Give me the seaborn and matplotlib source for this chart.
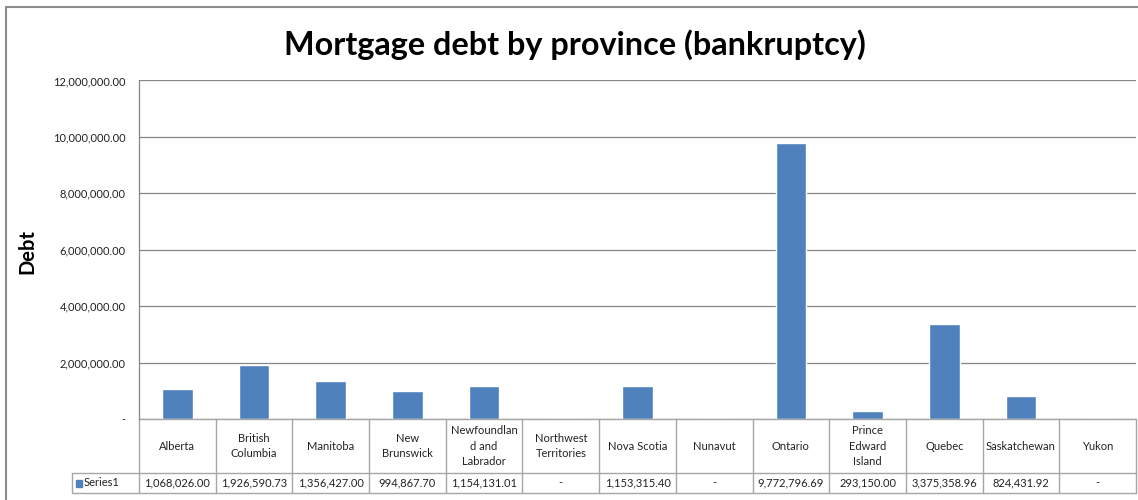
import numpy as np
import pandas as pd
import seaborn as sns
import matplotlib.pyplot as plt
from matplotlib.lines import Line2D
from matplotlib.patches import Rectangle
from matplotlib.ticker import FuncFormatter

provinces = ['Alberta', 'British Columbia', 'Manitoba', 'New Brunswick', 'Newfoundland and Labrador',
             'Northwest Territories', 'Nova Scotia', 'Nunavut', 'Ontario', 'Prince Edward Island',
             'Quebec', 'Saskatchewan', 'Yukon']
# how excel wrapped the names in the table cells
province_labels = ['Alberta', 'British\nColumbia', 'Manitoba', 'New\nBrunswick', 'Newfoundlan\nd and\nLabrador',
                   'Northwest\nTerritories', 'Nova Scotia', 'Nunavut', 'Ontario', 'Prince\nEdward\nIsland',
                   'Quebec', 'Saskatchewan', 'Yukon']
debt = [1068026.00, 1926590.73, 1356427.00, 994867.70, 1154131.01, 0.0, 1153315.40,
        0.0, 9772796.69, 293150.00, 3375358.96, 824431.92, 0.0]
series_name = 'Series1'
y_ticks = [0, 2000000, 4000000, 6000000, 8000000, 10000000, 12000000]

bar_color = '#4F81BD'
grid_color = '#868686'
table_color = '#A6A6A6'
font = 'Lato'

def money(v):
    # excel accounting style: zero shows as a dash
    return '-' if v == 0 else f'{v:,.2f}'

df = pd.DataFrame({'province': provinces, 'debt': debt})

sns.set_style('white')
plt.rcParams['font.family'] = [font, 'DejaVu Sans']

W, H = 1138, 500
fig = plt.figure(figsize=(W / 100, H / 100), dpi=100)
ax = fig.add_axes([139 / W, 1 - 419 / H, (1136 - 139) / W, (419 - 80.5) / H])

sns.barplot(data=df, x='province', y='debt', color=bar_color, saturation=1, width=0.4, ax=ax)

ax.set_xlim(-0.5, len(provinces) - 0.5)
ax.set_ylim(0, 12000000)
ax.set_yticks(y_ticks)
ax.yaxis.set_major_formatter(FuncFormatter(lambda v, p: money(v)))
ax.tick_params(axis='y', length=0, pad=9.5, labelsize=8, labelcolor='#222222')
ax.set_xticks([])
ax.set_xlabel('')
ax.set_ylabel('')
for t in y_ticks:
    ax.axhline(t, color=grid_color, lw=0.9, zorder=0)

for s in ['top', 'right', 'bottom']:
    ax.spines[s].set_visible(False)
ax.spines['left'].set_color(grid_color)
ax.spines['left'].set_linewidth(0.9)

# data table under the plot (axes fraction for y, data coords for x)
row1 = -54 / 338.5
row2 = -74 / 338.5
tr = ax.get_xaxis_transform()
n = len(provinces)
lw = 1.0
ax.add_line(Line2D([-0.5, n - 0.5], [0, 0], transform=tr, color=table_color, lw=lw, clip_on=False))
leg_left = -0.5 - 67 / 76.7
ax.add_line(Line2D([leg_left, n - 0.5], [row1, row1], transform=tr, color=table_color, lw=lw, clip_on=False))
ax.add_line(Line2D([leg_left, n - 0.5], [row2, row2], transform=tr, color=table_color, lw=lw, clip_on=False))
ax.add_line(Line2D([leg_left, leg_left], [row1, row2], transform=tr, color=table_color, lw=lw, clip_on=False))
for i in range(n + 1):
    ax.add_line(Line2D([i - 0.5, i - 0.5], [0, row2], transform=tr, color=table_color, lw=lw, clip_on=False))

for i, (lab, v) in enumerate(zip(province_labels, debt)):
    ax.text(i, row1 / 2, lab, transform=tr, ha='center', va='center', fontsize=8,
            linespacing=1.45, color='#222222')
    ax.text(i, (row1 + row2) / 2, money(v), transform=tr, ha='center', va='center',
            fontsize=8, color='#222222')

# legend key in the series row
ax.add_patch(Rectangle((leg_left + 4 / 76.7, (row1 + row2) / 2 - 3.5 / 338.5), 6 / 76.7, 7 / 338.5,
                       transform=tr, color=bar_color, clip_on=False))
ax.text(leg_left + 12 / 76.7, (row1 + row2) / 2, series_name, transform=tr, ha='left', va='center',
        fontsize=8, color='#222222')

# title and axis title
fig.text(575 / W, 1 - 45 / H, 'Mortgage debt by province (bankruptcy)', ha='center', va='center',
         fontsize=23.3, fontweight='bold', color='black')
fig.text(27.5 / W, 1 - 251 / H, 'Debt', rotation=90, ha='center', va='center', fontsize=14.5,
         fontweight='bold', color='black')

# chart area border (top and left edges visible)
fig.add_artist(Line2D([6 / W, 1], [1 - 7 / H, 1 - 7 / H], transform=fig.transFigure, color='#8C8C8C', lw=1.5))
fig.add_artist(Line2D([6 / W, 6 / W], [1 - 7 / H, 0], transform=fig.transFigure, color='#8C8C8C', lw=1.5))

fig.savefig('out.png', dpi=100)
